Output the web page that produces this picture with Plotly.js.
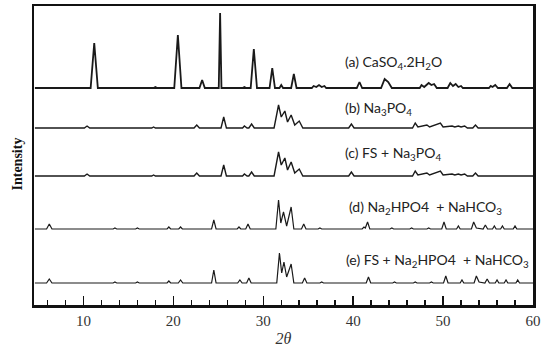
<!DOCTYPE html>
<html>
<head>
<meta charset="utf-8">
<script src="https://cdn.plot.ly/plotly-3.0.1.min.js"></script>
<style>
  html, body { margin: 0; padding: 0; background: #fff; }
  #xrd-chart { width: 550px; height: 353px; }
</style>
</head>
<body>
<div id="xrd-chart"></div>
<script>
// XRD patterns, [2theta, intensity] vertices
const patternA = [[4.6,0],[10.8,0],[11.2,45],[11.6,0],[17.8,0],[18.0,1],[18.2,0],[20.1,0],[20.5,53],[20.9,0],
  [22.9,0],[23.2,8],[23.5,0],[25.05,0],[25.2,75],[25.35,0],[27.7,0],[27.9,1],[28.1,0],[28.6,0],[28.95,39],[29.3,0],
  [30.7,0],[31.0,20],[31.3,0],[31.8,0],[32.0,3],[32.2,0],[33.1,0],[33.4,14],[33.7,0],[35.4,0],[35.6,2],[35.9,1],
  [36.2,3],[36.5,1],[36.8,2],[37.0,0],[40.4,0],[40.7,6],[41.0,0],[43.1,0],[43.5,9],[43.9,6],[44.3,0],[47.4,0],
  [47.6,3],[47.9,1],[48.4,5],[48.7,3],[49.0,4],[49.3,0],[50.5,0],[50.8,5],[51.1,2],[51.4,4],[51.7,1],[52.0,2],
  [52.2,0],[55.1,0],[55.3,2],[55.5,1],[55.8,3],[56.1,0],[57.1,0],[57.4,4],[57.7,0],[60,0]];

const patternB = [[4.6,0],[10.1,0],[10.4,2],[10.7,0],[17.6,0],[17.8,1],[18.0,0],[22.3,0],[22.6,3],[22.9,0],
  [25.3,0],[25.6,11],[25.9,0],[27.7,0],[27.9,2],[28.2,0],[28.4,0],[28.7,4],[29.0,0],[31.2,0],[31.7,23],[32.0,11],
  [32.4,17],[32.7,6],[33.1,13],[33.5,3],[34.0,7],[34.4,0],[39.5,0],[39.8,4],[40.1,0],[46.6,0],[46.9,5],[47.2,1],
  [48.2,3],[48.5,1],[49.7,5],[50.0,1],[51.0,2],[51.3,1],[51.7,2],[52.0,1],[52.4,2],[52.7,0],[53.3,0],[53.6,3],
  [53.9,0],[60,0]];

const patternC = [[4.6,0],[10.1,0],[10.4,2],[10.7,0],[17.6,0],[17.8,1],[18.0,0],[22.3,0],[22.6,3],[22.9,0],
  [25.3,0],[25.6,11],[25.9,0],[27.7,0],[27.9,2],[28.2,0],[28.4,0],[28.7,4],[29.0,0],[31.2,0],[31.7,24],[32.0,11],
  [32.4,18],[32.7,6],[33.1,14],[33.5,3],[34.0,7],[34.4,0],[39.5,0],[39.8,4],[40.1,0],[46.6,0],[46.9,5],[47.2,1],
  [48.2,3],[48.5,1],[49.7,5],[50.0,1],[51.0,2],[51.3,1],[51.7,2],[52.0,1],[52.4,2],[52.7,0],[53.3,0],[53.6,3],
  [53.9,0],[60,0]];

const patternD = [[4.6,0],[5.9,0],[6.2,5],[6.5,0],[13.3,0],[13.5,1],[13.7,0],[15.8,0],[16.0,1],[16.2,0],
  [19.3,0],[19.5,2],[19.7,0],[20.6,0],[20.8,2],[21.0,0],[24.25,0],[24.5,9],[24.75,0],[27.1,0],[27.3,2],[27.5,0],
  [28.05,0],[28.3,5],[28.55,0],[31.4,0],[31.7,29],[31.95,6],[32.25,17],[32.6,3],[33.1,22],[33.4,0],[34.25,0],
  [34.5,5],[34.75,0],[36.1,0],[36.3,1],[36.5,0],[41.0,0],[41.2,2],[41.35,1],[41.6,7],[41.85,0],[44.1,0],[44.3,1],
  [44.5,0],[46.3,0],[46.5,1],[46.7,0],[48.2,0],[48.4,1],[48.6,0],[49.85,0],[50.1,7],[50.35,0],[51.5,0],[51.7,3],
  [51.9,0],[53.15,0],[53.4,7],[53.7,1],[54.45,0],[54.7,4],[54.95,0],[55.5,0],[55.7,3],[55.9,0],[56.4,0],[56.6,3],
  [56.8,0],[57.8,0],[58.0,3],[58.2,0],[60,0]];

const patternE = [[4.6,0],[5.9,0],[6.2,4],[6.5,0],[13.3,0],[13.5,1],[13.7,0],[15.8,0],[16.0,1],[16.2,0],
  [19.3,0],[19.5,2],[19.7,0],[20.55,0],[20.8,3],[21.05,0],[24.25,0],[24.5,13],[24.75,0],[27.15,0],[27.4,3],
  [27.65,0],[28.15,0],[28.4,5],[28.65,0],[31.5,0],[31.8,30],[32.05,10],[32.3,21],[32.6,6],[33.1,19],[33.4,0],
  [34.35,0],[34.6,5],[34.85,0],[36.3,0],[36.5,1],[36.7,0],[41.45,0],[41.7,6],[41.95,0],[44.4,0],[44.6,1],[44.8,0],
  [46.7,0],[46.9,1],[47.1,0],[48.5,0],[48.7,1],[48.9,0],[50.05,0],[50.3,7],[50.55,0],[51.9,0],[52.1,3],[52.3,0],
  [53.45,0],[53.7,7],[54.0,1],[54.65,0],[54.9,4],[55.15,0],[55.8,0],[56.0,3],[56.2,0],[56.8,0],[57.0,3],[57.2,0],
  [58.1,0],[58.3,3],[58.5,0],[60,0]];

const sampleLabels = [
  '(a) CaSO<sub>4</sub>.2H<sub>2</sub>O',
  '(b) Na<sub>3</sub>PO<sub>4</sub>',
  '(c) FS + Na<sub>3</sub>PO<sub>4</sub>',
  '(d) Na<sub>2</sub>HPO4  + NaHCO<sub>3</sub>',
  '(e) FS + Na<sub>2</sub>HPO4  + NaHCO<sub>3</sub>'
];
const xTicks = [10, 20, 30, 40, 50, 60];

// stacking: vertical offset of each pattern and label placement
const patterns = [patternA, patternB, patternC, patternD, patternE];
const offsets = [217, 177, 129, 76, 22];
const labelX = [38.9, 38.9, 38.9, 39.3, 39.0];
const labelY = [243, 197, 152, 98, 45];
const lineWidths = [1.8, 1.4, 1.4, 1.2, 1.2];

const traces = patterns.map((p, i) => ({
  x: p.map(v => v[0]),
  y: p.map(v => v[1] + offsets[i]),
  type: 'scatter',
  mode: 'lines',
  line: { color: '#1a1a1a', width: lineWidths[i] },
  hoverinfo: 'skip'
}));

const annotations = sampleLabels.map((t, i) => ({
  text: t,
  x: labelX[i], y: labelY[i],
  xref: 'x', yref: 'y',
  xanchor: 'left', yanchor: 'middle',
  showarrow: false,
  font: { family: 'Lato, "Liberation Sans", sans-serif', size: 14, color: '#222' }
}));

annotations.push({
  text: '<b>Intensity</b>',
  xref: 'paper', yref: 'paper',
  x: -0.034, y: 0.47,
  xanchor: 'center', yanchor: 'middle',
  textangle: -90,
  showarrow: false,
  font: { family: '"Liberation Serif", "DejaVu Serif", serif', size: 14, color: '#111' }
});

const layout = {
  width: 550,
  height: 353,
  margin: { l: 34, r: 17, t: 6, b: 48 },
  paper_bgcolor: '#fff',
  plot_bgcolor: '#fff',
  showlegend: false,
  xaxis: {
    range: [4.5, 60],
    tickvals: xTicks,
    ticks: 'inside',
    ticklen: 9,
    tickwidth: 1.5,
    tickcolor: '#111',
    minor: { dtick: 2, tick0: 0, ticks: 'inside', ticklen: 5, tickwidth: 1.5, tickcolor: '#111' },
    showgrid: false,
    zeroline: false,
    showline: true,
    linewidth: 2.5,
    linecolor: '#111',
    mirror: true,
    tickfont: { family: '"Liberation Serif", "DejaVu Serif", serif', size: 15, color: '#333' },
    title: { text: '<i>2θ</i>', font: { family: '"Liberation Serif", "DejaVu Serif", serif', size: 16, color: '#333' }, standoff: 6 }
  },
  yaxis: {
    range: [0, 299],
    showticklabels: false,
    ticks: '',
    showgrid: false,
    zeroline: false,
    showline: true,
    linewidth: 2.5,
    linecolor: '#111',
    mirror: true
  },
  annotations: annotations
};

Plotly.newPlot('xrd-chart', traces, layout, { displayModeBar: false, staticPlot: true });
</script>
</body>
</html>
